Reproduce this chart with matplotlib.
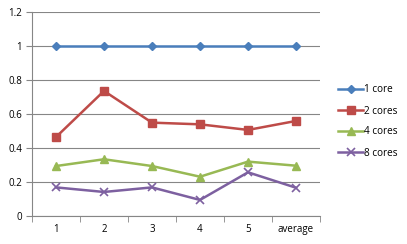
import matplotlib.pyplot as plt
from matplotlib.ticker import FixedLocator

# data
categories = ['1', '2', '3', '4', '5', 'average']
core1 = [1.0, 1.0, 1.0, 1.0, 1.0, 1.0]
core2 = [0.464, 0.736, 0.549, 0.539, 0.506, 0.559]
core4 = [0.293, 0.333, 0.293, 0.230, 0.319, 0.295]
core8 = [0.167, 0.140, 0.167, 0.093, 0.256, 0.165]

plt.rcParams['font.family'] = ['Open Sans', 'DejaVu Sans']

fig = plt.figure(figsize=(4.07, 2.44), dpi=100)
ax = fig.add_axes([32 / 407, 28.3 / 244, 288 / 407, 203.4 / 244])

x = list(range(len(categories)))
ax.plot(x, core1, color='#4A7EBB', lw=1.8, marker='D', ms=4.5, label='1 core')
ax.plot(x, core2, color='#BE4B48', lw=1.8, marker='s', ms=5.5, label='2 cores')
ax.plot(x, core4, color='#98B954', lw=1.8, marker='^', ms=6, label='4 cores')
ax.plot(x, core8, color='#7D60A0', lw=1.8, marker='x', ms=6, mew=1.2, label='8 cores')

ax.set_xlim(-0.5, 5.5)
ax.set_ylim(0, 1.2)
ax.set_yticks([0, 0.2, 0.4, 0.6, 0.8, 1, 1.2])
ax.set_yticklabels(['0', '0.2', '0.4', '0.6', '0.8', '1', '1.2'], fontsize=7)
ax.set_xticks(x)
ax.set_xticklabels(categories, fontsize=7)
ax.xaxis.set_minor_locator(FixedLocator([i - 0.5 for i in range(7)]))
ax.tick_params(axis='x', which='major', length=0, pad=6)
ax.tick_params(axis='x', which='minor', length=4, color='#868686')
ax.tick_params(axis='y', length=4, color='#868686', pad=3)

ax.grid(axis='y', color='#868686', lw=0.8)
ax.set_axisbelow(True)
for s in ['top', 'right']:
    ax.spines[s].set_visible(False)
for s in ['left', 'bottom']:
    ax.spines[s].set_color('#868686')
    ax.spines[s].set_linewidth(0.8)

fig.legend(loc='center left', bbox_to_anchor=(334 / 407, 1 - 121.5 / 244),
           frameon=False, fontsize=7.2, handlelength=2.5, handletextpad=0.1,
           labelspacing=1.0, borderaxespad=0)

plt.savefig('out.png', dpi=100)
